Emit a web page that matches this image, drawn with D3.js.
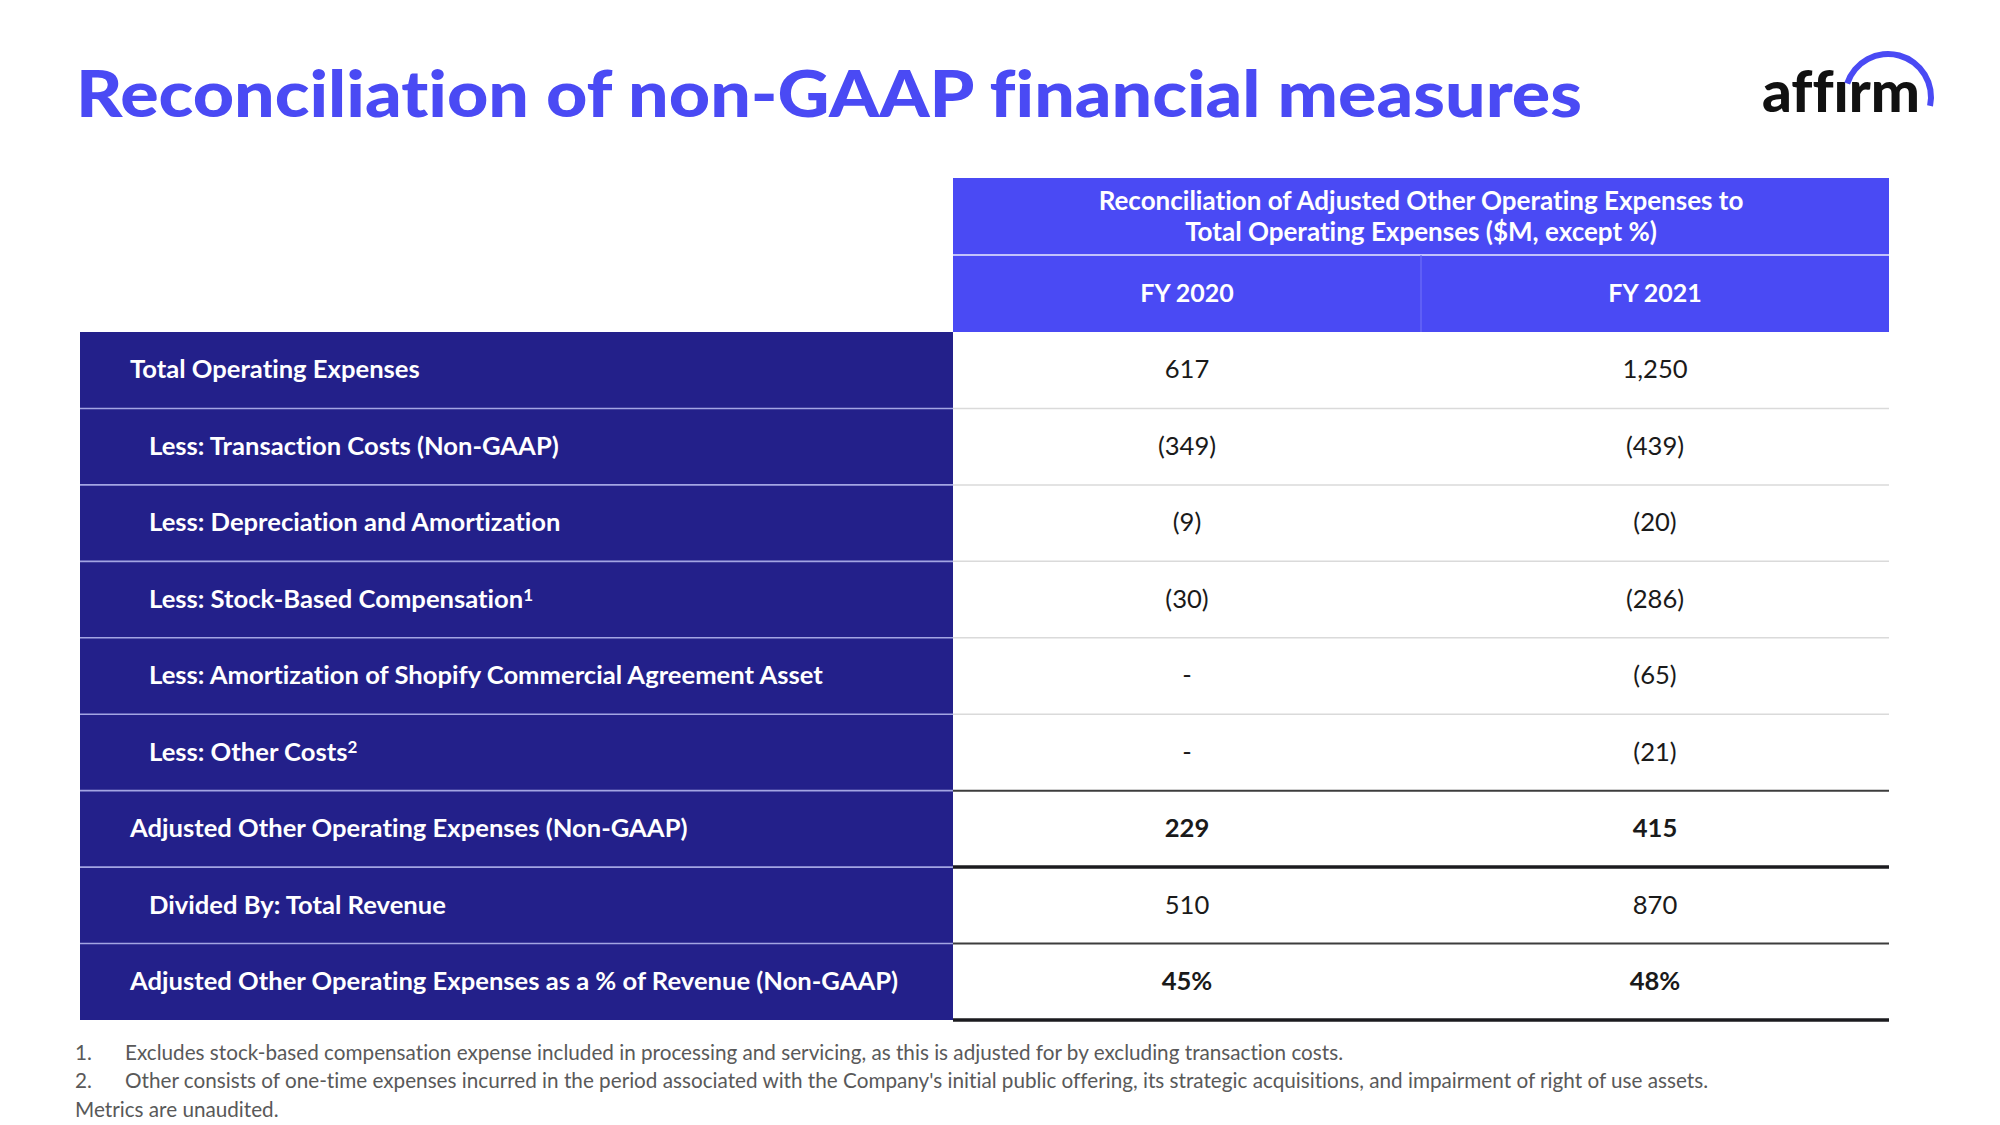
<!DOCTYPE html>
<html>
<head>
<meta charset="utf-8">
<script src="https://cdn.jsdelivr.net/npm/d3@7"></script>
<style>
  html, body { margin: 0; padding: 0; background: #ffffff; }
  svg { display: block; }
  svg text { font-variant-ligatures: none; }
</style>
</head>
<body>
<div id="chart"></div>
<script>
// ---------- DATA ----------
const title = "Reconciliation of non-GAAP financial measures";
const headerTitleLines = ["Reconciliation of Adjusted Other Operating Expenses to",
                          "Total Operating Expenses ($M, except %)"];
const periods = ["FY 2020", "FY 2021"];
const rowLabels = [
  "Total Operating Expenses",
  "Less: Transaction Costs (Non-GAAP)",
  "Less: Depreciation and Amortization",
  "Less: Stock-Based Compensation",
  "Less: Amortization of Shopify Commercial Agreement Asset",
  "Less: Other Costs",
  "Adjusted Other Operating Expenses (Non-GAAP)",
  "Divided By: Total Revenue",
  "Adjusted Other Operating Expenses as a % of Revenue (Non-GAAP)"
];
const rowNotes   = ["", "", "", "1", "", "2", "", "", ""];
const rowIndent  = [0, 1, 1, 1, 1, 1, 0, 1, 0];
const rowBold    = [false, false, false, false, false, false, true, false, true];
const rowPercent = [false, false, false, false, false, false, false, false, true];
const fy2020 = [617, -349, -9, -30, null, null, 229, 510, 45];
const fy2021 = [1250, -439, -20, -286, -65, -21, 415, 870, 48];
const footnotes = [
  ["1.", "Excludes stock-based compensation expense included in processing and servicing, as this is adjusted for by excluding transaction costs."],
  ["2.", "Other consists of one-time expenses incurred in the period associated with the Company's initial public offering, its strategic acquisitions, and impairment of right of use assets."]
];
const disclaimer = "Metrics are unaudited.";
const logoText = "aff\u0131rm";

// ---------- SETUP ----------
const W = 2000, H = 1125;
const BLUE = "#4a4af4", NAVY = "#23208a";
const cellFont = "Lato, 'Open Sans', sans-serif";
const CELL_FS = 25.6;

const svg = d3.select("#chart").append("svg")
  .attr("width", W).attr("height", H)
  .attr("viewBox", `0 0 ${W} ${H}`);

svg.append("rect").attr("width", W).attr("height", H).attr("fill", "#fff");

// Title
svg.append("text")
  .attr("x", 76).attr("y", 117)
  .attr("fill", BLUE)
  .attr("font-family", "Lato, Inter, sans-serif")
  .attr("font-weight", 900)
  .attr("font-size", 65)
  .attr("textLength", 1506)
  .attr("lengthAdjust", "spacingAndGlyphs")
  .text(title);

// Logo
const logo = svg.append("g").attr("class", "logo");
logo.append("text")
  .attr("x", 1762).attr("y", 112)
  .attr("fill", "#111")
  .attr("font-family", "Lato, Inter, sans-serif")
  .attr("font-weight", 900)
  .attr("font-size", 57)
  .attr("textLength", 158)
  .attr("lengthAdjust", "spacingAndGlyphs")
  .text(logoText);
logo.append("path")
  .attr("transform", "translate(1888,97)")
  .attr("fill", BLUE)
  .attr("d", d3.arc()({innerRadius: 40, outerRadius: 46, startAngle: -1.25, endAngle: 1.78}));

// Scales
const tableTop = 332, tableBottom = 1020;
const labelLeft = 80, valueLeft = 953, valueRight = 1889;
const y = d3.scaleBand().domain(d3.range(rowLabels.length)).range([tableTop, tableBottom]).padding(0);
const x = d3.scaleBand().domain(periods).range([valueLeft, valueRight]).padding(0);
const hy = d3.scaleBand().domain(["title", "periods"]).range([178, tableTop]).padding(0);

// Header
const head = svg.append("g");
head.append("rect")
  .attr("x", valueLeft).attr("y", hy("title"))
  .attr("width", valueRight - valueLeft).attr("height", hy.bandwidth() * 2)
  .attr("fill", BLUE);
head.append("line")
  .attr("x1", valueLeft).attr("x2", valueRight)
  .attr("y1", hy("periods")).attr("y2", hy("periods"))
  .attr("stroke", "#c2c2fb").attr("stroke-width", 2);
head.append("line")
  .attr("x1", x(periods[1])).attr("x2", x(periods[1]))
  .attr("y1", hy("periods")).attr("y2", tableTop)
  .attr("stroke", "#6e6ef7").attr("stroke-width", 1.2);
head.selectAll("text.ht").data(headerTitleLines).join("text")
  .attr("class", "ht")
  .attr("x", (valueLeft + valueRight) / 2)
  .attr("y", (d, i) => hy("title") + hy.bandwidth() / 2 + (i - 0.5) * 31)
  .attr("dy", "0.33em")
  .attr("text-anchor", "middle")
  .attr("fill", "#fff")
  .attr("font-family", cellFont).attr("font-weight", 700).attr("font-size", 26)
  .text(d => d);
head.selectAll("text.pt").data(periods).join("text")
  .attr("class", "pt")
  .attr("x", d => x(d) + x.bandwidth() / 2)
  .attr("y", hy("periods") + hy.bandwidth() / 2)
  .attr("dy", "0.33em")
  .attr("text-anchor", "middle")
  .attr("fill", "#fff")
  .attr("font-family", cellFont).attr("font-weight", 700).attr("font-size", 25)
  .text(d => d);

// Label column
const rows = d3.range(rowLabels.length);
const body = svg.append("g");
body.append("rect")
  .attr("x", labelLeft).attr("y", tableTop)
  .attr("width", valueLeft - labelLeft).attr("height", tableBottom - tableTop)
  .attr("fill", NAVY);
body.selectAll("line.nsep").data(rows.slice(1)).join("line")
  .attr("class", "nsep")
  .attr("x1", labelLeft).attr("x2", valueLeft)
  .attr("y1", d => y(d)).attr("y2", d => y(d))
  .attr("stroke", "#a3a5e3").attr("stroke-width", 1.6);

// Value-cell separators (style depends on emphasis of neighbouring rows)
function sepStyle(i) {
  if (i === rowLabels.length) return {c: "#1b1b1f", w: 3.5};
  if (rowBold[i]) return {c: "#3d3d3d", w: 2};
  if (rowBold[i - 1]) return {c: "#1b1b1f", w: 3.5};
  return {c: "#dadada", w: 1.5};
}
body.selectAll("line.vsep").data(d3.range(1, rowLabels.length + 1)).join("line")
  .attr("class", "vsep")
  .attr("x1", valueLeft).attr("x2", valueRight)
  .attr("y1", d => d < rowLabels.length ? y(d) : tableBottom)
  .attr("y2", d => d < rowLabels.length ? y(d) : tableBottom)
  .attr("stroke", d => sepStyle(d).c)
  .attr("stroke-width", d => sepStyle(d).w);

// Labels
const lbl = body.selectAll("text.lbl").data(rows).join("text")
  .attr("class", "lbl")
  .attr("x", d => rowIndent[d] ? 149 : 130)
  .attr("y", d => y(d) + y.bandwidth() / 2)
  .attr("dy", "0.32em")
  .attr("fill", "#fff")
  .attr("font-family", cellFont).attr("font-weight", 700).attr("font-size", CELL_FS);
lbl.append("tspan").text(d => rowLabels[d]);
lbl.filter(d => rowNotes[d]).append("tspan")
  .attr("dy", "-0.42em").attr("font-size", 17)
  .text(d => rowNotes[d]);

// Values
function fmt(v, pct) {
  if (v === null) return "-";
  const s = pct ? v + "%" : d3.format(",")(Math.abs(v));
  return v < 0 ? `(${s})` : s;
}
const series = [fy2020, fy2021];
periods.forEach((p, j) => {
  body.selectAll(`text.v${j}`).data(rows).join("text")
    .attr("class", `v${j}`)
    .attr("x", x(p) + x.bandwidth() / 2)
    .attr("y", d => y(d) + y.bandwidth() / 2)
    .attr("dy", "0.32em")
    .attr("text-anchor", "middle")
    .attr("fill", "#1a1a1a")
    .attr("font-family", cellFont)
    .attr("font-weight", d => rowBold[d] ? 700 : 400)
    .attr("font-size", CELL_FS)
    .text(d => fmt(series[j][d], rowPercent[d]));
});

// Footnotes
const fn = svg.append("g")
  .attr("fill", "#595959")
  .attr("font-family", cellFont).attr("font-size", 20.7);
footnotes.forEach((f, i) => {
  fn.append("text").attr("x", 75).attr("y", 1060 + i * 28).text(f[0]);
  fn.append("text").attr("x", 125).attr("y", 1060 + i * 28).text(f[1]);
});
fn.append("text").attr("x", 75).attr("y", 1117).text(disclaimer);
</script>
</body>
</html>
